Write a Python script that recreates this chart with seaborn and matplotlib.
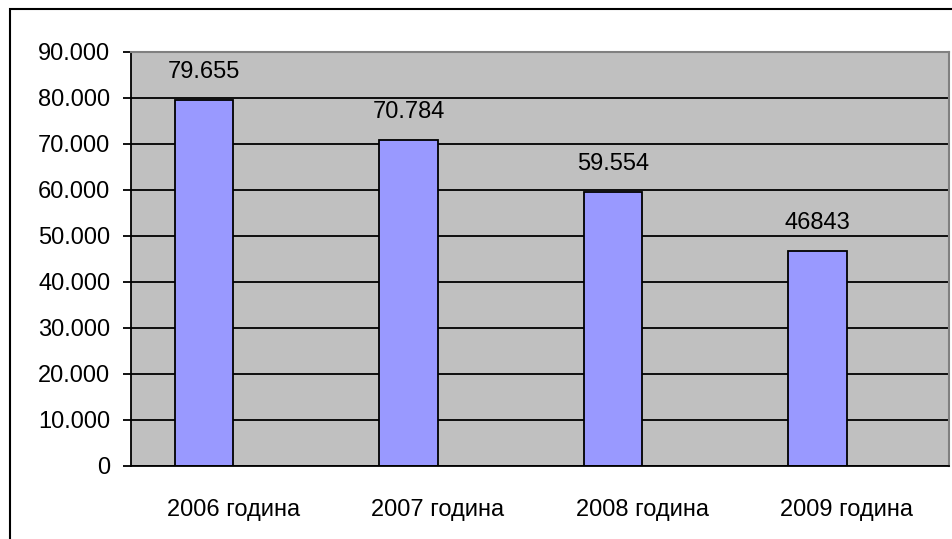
import matplotlib
matplotlib.use("Agg")
import matplotlib.pyplot as plt
import seaborn as sns
import pandas as pd
import numpy as np
from matplotlib.patches import Rectangle

# data
years = ['2006 година', '2007 година', '2008 година', '2009 година']
values = [79655, 70784, 59554, 46843]
bar_labels = ['79.655', '70.784', '59.554', '46843']
yticks = [0, 10000, 20000, 30000, 40000, 50000, 60000, 70000, 80000, 90000]
ytick_labels = ['0', '10.000', '20.000', '30.000', '40.000', '50.000',
                '60.000', '70.000', '80.000', '90.000']

# Excel chart had a second (empty) series, so bars sit left of centre
df = pd.DataFrame({
    'year': years * 2,
    'value': values + [np.nan] * len(years),
    'series': ['a'] * len(years) + ['b'] * len(years),
})

sns.set_style('white')
plt.rcParams['font.family'] = ['Liberation Sans', 'DejaVu Sans']
plt.rcParams['text.color'] = 'black'
plt.rcParams['xtick.color'] = 'black'
plt.rcParams['ytick.color'] = 'black'
fs = 17

fig = plt.figure(figsize=(9.53, 5.39), dpi=100)
ax = fig.add_axes([131 / 953, (539 - 466) / 539, (949 - 131) / 953, (466 - 52) / 539])

ax.set_facecolor('#C0C0C0')
ax.set_axisbelow(True)
ax.yaxis.grid(True, color='black', linewidth=1.3)

sns.barplot(data=df, x='year', y='value', hue='series',
            palette=['#9999FF', '#9999FF'], width=0.57, dodge=True,
            edgecolor='black', linewidth=1.3, saturation=1, legend=False, ax=ax)

for bar, lab in zip(ax.containers[0], bar_labels):
    ax.annotate(lab, (bar.get_x() + bar.get_width() / 2, bar.get_height()),
                xytext=(0, 28), textcoords='offset pixels',
                ha='center', va='center', fontsize=fs)

ax.set_ylim(0, 90000)
ax.set_xlim(-0.5, 3.5)
ax.set_yticks(yticks)
ax.set_yticklabels(ytick_labels, fontsize=fs)
ax.set_xticks([-0.5, 0.5, 1.5, 2.5, 3.5])
ax.set_xticklabels([])
ax.set_xticks([0, 1, 2, 3], minor=True)
ax.set_xticklabels(years, minor=True, fontsize=fs)
ax.tick_params(axis='x', which='major', length=6, width=1.3, direction='out')
ax.tick_params(axis='x', which='minor', length=0, pad=24)
ax.tick_params(axis='y', length=6, width=1.3, direction='out', pad=9, left=True)
ax.set_xlabel('')
ax.set_ylabel('')

for side in ['left', 'bottom']:
    ax.spines[side].set_color('black')
    ax.spines[side].set_linewidth(1.3)
for side in ['top', 'right']:
    ax.spines[side].set_color('#808080')
    ax.spines[side].set_linewidth(1.5)

# chart area border (right and bottom run off the image)
fig.patches.append(Rectangle((10 / 953, -0.05), 1.2, (539 - 9) / 539 + 0.05,
                             transform=fig.transFigure, fill=False,
                             edgecolor='black', linewidth=1.5))

fig.savefig('out.png', dpi=100)
